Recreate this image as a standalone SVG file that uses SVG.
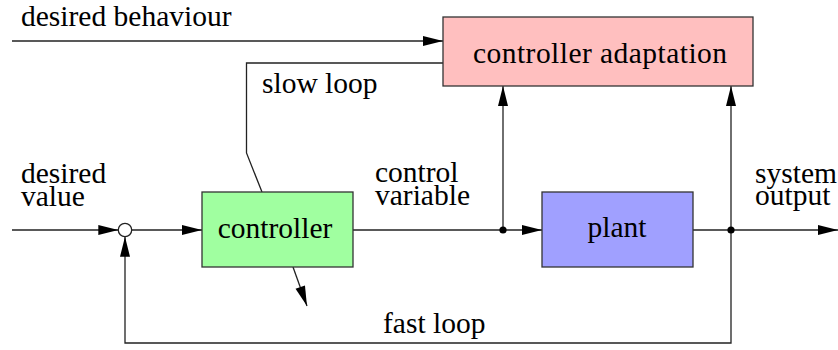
<svg xmlns="http://www.w3.org/2000/svg" width="838" height="350" viewBox="0 0 838 350">
  <style>
    .box { stroke: #333; stroke-width: 1.3; }
    .wire { fill: none; stroke: #222; stroke-width: 1.3; }
    text { font-family: "Liberation Serif", "Times New Roman", serif; font-size: 29.5px; fill: #000; }
    .mid { text-anchor: middle; }
  </style>
  <defs>
    <marker id="arrow" markerUnits="userSpaceOnUse" markerWidth="20" markerHeight="10" refX="20" refY="5" orient="auto" overflow="visible">
      <path d="M0,0 L20,5 L0,10 Z" fill="#000"/>
    </marker>
  </defs>
  <rect width="838" height="350" fill="#fff"/>

  <!-- connectors -->
  <g id="connectors">
    <!-- desired behaviour into adaptation -->
    <line class="wire" x1="12" y1="41" x2="443" y2="41" marker-end="url(#arrow)"/>
    <!-- slow loop from adaptation back to controller -->
    <polyline class="wire" points="443,63 246.5,63 246.5,153 262,192"/>
    <!-- desired value into summing junction -->
    <line class="wire" x1="12" y1="230" x2="118.3" y2="230" marker-end="url(#arrow)"/>
    <!-- summing junction to controller -->
    <line class="wire" x1="131.7" y1="230" x2="202" y2="230" marker-end="url(#arrow)"/>
    <!-- controller output to plant -->
    <line class="wire" x1="353" y1="230" x2="542" y2="230" marker-end="url(#arrow)"/>
    <!-- control variable tap to adaptation -->
    <line class="wire" x1="503" y1="230" x2="503" y2="86" marker-end="url(#arrow)"/>
    <!-- plant output -->
    <line class="wire" x1="693" y1="230" x2="838" y2="230" marker-end="url(#arrow)"/>
    <!-- system output tap to adaptation -->
    <line class="wire" x1="731" y1="230" x2="731" y2="86" marker-end="url(#arrow)"/>
    <!-- fast feedback loop -->
    <polyline class="wire" points="731,230 731,343 125,343 125,236.7" marker-end="url(#arrow)"/>
    <!-- adjustment arrow out of controller -->
    <line class="wire" x1="293" y1="267" x2="307" y2="306" marker-end="url(#arrow)"/>
    <!-- branch points -->
    <circle cx="503" cy="230" r="3.6" fill="#000"/>
    <circle cx="731" cy="230" r="3.6" fill="#000"/>
  </g>

  <!-- summing junction -->
  <g id="sum">
    <circle cx="125" cy="230" r="6.7" fill="#fff" stroke="#222" stroke-width="1.3"/>
  </g>

  <g id="adaptation">
    <rect class="box" x="443" y="17" width="310" height="69" fill="#ffbfbf"/>
    <text x="473" y="63" textLength="254" lengthAdjust="spacing">controller adaptation</text>
  </g>

  <g id="controller">
    <rect class="box" x="202" y="192" width="151" height="75" fill="#a0ffa0"/>
    <text class="mid" x="275" y="238">controller</text>
  </g>

  <g id="plant">
    <rect class="box" x="542" y="192" width="151" height="75" fill="#a0a0ff"/>
    <text class="mid" x="617" y="237">plant</text>
  </g>

  <!-- free labels -->
  <g id="labels">
    <text x="21" y="26">desired behaviour</text>
    <text x="262" y="93">slow loop</text>
    <text x="21" y="183">desired<tspan x="21" dy="23">value</tspan></text>
    <text x="375" y="182">control<tspan x="375" dy="23">variable</tspan></text>
    <text x="755" y="183">system<tspan x="755" dy="22">output</tspan></text>
    <text x="383" y="333">fast loop</text>
  </g>
</svg>
